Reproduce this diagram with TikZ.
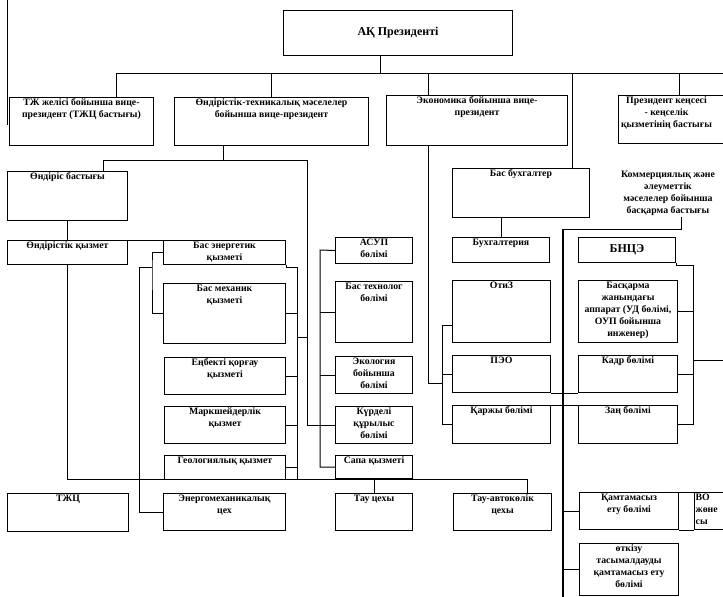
\documentclass[tikz,border=0pt]{standalone}
\usepackage{fontspec}
\setmainfont{Liberation Serif}
\tikzstyle{box} = [draw, line width=1pt, rectangle, inner sep=0pt, anchor=north west]
\tikzstyle{txt} = [anchor=north, align=center, inner sep=1.5pt, font=\fontsize{9.8}{12}\selectfont\bfseries]
\tikzstyle{link} = [line width=1pt]

\begin{document}
\begin{tikzpicture}[x=1pt,y=-1pt]
        \useasboundingbox (0,0) rectangle (723,597);
        % \draw[step=50,gray,very thin] (0,0) grid (723,597);
        \node[box, minimum width=229pt, minimum height=45pt, font=\fontsize{12}{14}\selectfont\bfseries] (pres) at (283,10) {АҚ Президенті};
        \node[box, minimum width=144pt, minimum height=48pt, label={[txt]north:{ТЖ желісі бойынша вице-\\президент (ТЖЦ бастығы)}}] (vpTZh) at (9,97) {};
        \node[box, minimum width=194pt, minimum height=48pt, label={[txt]north:{Өндірістік-техникалық мәселелер\\бойынша вице-президент}}] (vpProd) at (174,97) {};
        \node[box, minimum width=181pt, minimum height=50pt, label={[txt]north:{Экономика бойынша вице-\\президент}}] (vpEcon) at (386,95) {};
        \node[box, minimum width=122pt, minimum height=48pt, label={[txt, xshift=-13pt]north:{Президент кеңсесі\\- кеңселік\\қызметінің бастығы}}] (office) at (618,95) {};

        \node[box, minimum width=120pt, minimum height=49pt, label={[txt]north:{Өндіріс бастығы}}] (prodHead) at (7,171) {};
        \node[box, minimum width=120pt, minimum height=24pt, label={[txt]north:{Өндірістік қызмет}}] (prodSvc) at (7,240) {};
        \node[box, minimum width=122pt, minimum height=24pt, label={[txt]north:{Бас энергетик\\қызметі}}] (energ) at (163,240) {};
        \node[box, minimum width=122pt, minimum height=60pt, label={[txt]north:{Бас механик\\қызметі}}] (mech) at (163,283) {};
        \node[box, minimum width=121pt, minimum height=37pt, label={[txt]north:{Еңбекті қорғау\\қызметі}}] (safety) at (164,357) {};
        \node[box, minimum width=121pt, minimum height=37pt, label={[txt]north:{Маркшейдерлік\\қызмет}}] (survey) at (164,406) {};
        \node[box, minimum width=121pt, minimum height=24pt, label={[txt]north:{Геологиялық қызмет}}] (geo) at (164,455) {};

        \node[box, minimum width=77pt, minimum height=26pt, label={[txt]north:{АСУП\\бөлімі}}] (asu) at (335,237) {};
        \node[box, minimum width=77pt, minimum height=61pt, label={[txt]north:{Бас технолог\\бөлімі}}] (techn) at (335,281) {};
        \node[box, minimum width=77pt, minimum height=37pt, label={[txt]north:{Экология\\бойынша\\бөлімі}}] (eco) at (335,356) {};
        \node[box, minimum width=77pt, minimum height=37pt, label={[txt]north:{Күрделі\\құрылыс\\бөлімі}}] (capital) at (335,406) {};
        \node[box, minimum width=77pt, minimum height=23pt, label={[txt]north:{Сапа қызметі}}] (quality) at (335,455) {};

        \node[box, minimum width=137pt, minimum height=49pt, label={[txt]north:{Бас бухгалтер}}] (chiefAcc) at (452,168) {};
        \node[box, minimum width=97pt, minimum height=25pt, label={[txt]north:{Бухгалтерия}}] (acc) at (452,237) {};
        \node[box, minimum width=98pt, minimum height=62pt, label={[txt]north:{ОтиЗ}}] (labor) at (452,280) {};
        \node[box, minimum width=98pt, minimum height=37pt, label={[txt]north:{ПЭО}}] (plan) at (452,355) {};
        \node[box, minimum width=98pt, minimum height=38pt, label={[txt]north:{Қаржы бөлімі}}] (fin) at (452,405) {};

        \node[txt, anchor=center] (comm) at (668,193) {Коммерциялық және\\әлеуметтік\\мәселелер бойынша\\басқарма бастығы};
        \node[box, minimum width=97pt, minimum height=25pt, font=\fontsize{12}{14}\selectfont\bfseries] (bnce) at (578,237) {БНЦЭ};
        \node[box, minimum width=99pt, minimum height=62pt, label={[txt]north:{Басқарма\\жанындағы\\аппарат (УД бөлімі,\\ОУП бойынша\\инженер)}}] (apparat) at (578,280) {};
        \node[box, minimum width=99pt, minimum height=37pt, label={[txt]north:{Кадр бөлімі}}] (staff) at (578,355) {};
        \node[box, minimum width=99pt, minimum height=38pt, label={[txt]north:{Заң бөлімі}}] (law) at (578,405) {};
        \node[box, minimum width=99pt, minimum height=37pt, label={[txt]north:{Қамтамасыз\\ету бөлімі}}] (supply) at (579,492) {};
        \node[box, minimum width=66pt, minimum height=37pt, label={[txt, anchor=north west, align=left]north west:{ВО\\жөне\\сы}}] (vo) at (694,492) {};
        \node[box, minimum width=99pt, minimum height=52pt, label={[txt]north:{өткізу\\тасымалдауды\\қамтамасыз ету\\бөлімі}}] (sales) at (579,543) {};

        \node[box, minimum width=121pt, minimum height=38pt, label={[txt]north:{ТЖЦ}}] (tzhc) at (7,493) {};
        \node[box, minimum width=122pt, minimum height=37pt, label={[txt]north:{Энергомеханикалық\\цех}}] (emc) at (163,493) {};
        \node[box, minimum width=77pt, minimum height=37pt, label={[txt]north:{Тау цехы}}] (mine) at (335,493) {};
        \node[box, minimum width=98pt, minimum height=37pt, label={[txt]north:{Тау-автокөлік\\цехы}}] (auto) at (453,493) {};

        % top level
        \coordinate (top) at (380,73);
        \coordinate (busL) at (116,73);
        \coordinate (busR) at (723,73);
        \coordinate (jEcon) at (428,73);
        \coordinate (jAcc) at (572,73);
        \draw[link] (pres.south -| top) -- (top);
        \draw[link] (busL) -- (busR);
        \draw[link] (busL) -- (busL |- vpTZh.north);
        \draw[link] (vpProd.north) -- (vpProd.north |- busL);
        \draw[link] (jEcon) -- (jEcon |- vpEcon.north);
        \draw[link] (office.north) -- (office.north |- busL);
        \draw[link] (jAcc) -- (jAcc |- chiefAcc.north);

        % production
        \coordinate (jProd) at (223,160);
        \coordinate (jHead) at (103,160);
        \coordinate (jMid) at (307,160);
        \coordinate (mBus) at (320,250);
        \draw[link] (jProd |- vpProd.south) -- (jProd);
        \draw[link] (jHead |- prodHead.north) -- (jHead) -- (jMid) |- (capital.west -| mBus);
        \draw[link] (asu.west) -- (mBus) |- (quality.west);
        \draw[link] (techn.west) -- (techn.west -| mBus);
        \draw[link] (eco.west) -- (eco.west -| mBus);
        \draw[link] (capital.west) -- (capital.west -| mBus);

        \coordinate (lBus) at (297,267);
        \coordinate (lJoin) at (297,337);
        \draw[link] (energ.south east) |- (lBus) -- (lBus |- geo.south);
        \draw[link] (mech.east) -- (mech.east -| lBus);
        \draw[link] (safety.east) -- (safety.east -| lBus);
        \draw[link] (survey.east) -- (survey.east -| lBus);
        \draw[link] (geo.east) -- (geo.east -| lBus);
        \draw[link] (lJoin) -- (lJoin -| jMid);

        \coordinate (eBus) at (152,267);
        \coordinate (cBus) at (139,267);
        \draw[link] (energ.west) -| (eBus) |- (mech.west);
        \draw[link] (eBus) -- (cBus) |- (emc.west);

        \draw[link] (prodHead.south) -- (prodSvc.north);
        \draw[link] (prodSvc.north east) -- (energ.north west);
        \coordinate (bBus) at (527,479);
        \draw[link] (prodSvc.south) |- (bBus) -- (bBus |- auto.north);
        \draw[link] (mine.north) -- (mine.north |- bBus);

        % economics
        \coordinate (eDrop) at (428,383);
        \coordinate (fBus) at (442,325);
        \draw[link] (eDrop |- vpEcon.south) -- (eDrop) -- (eDrop -| fBus);
        \draw[link] (labor.west |- fBus) -- (fBus) |- (fin.west);
        \draw[link] (plan.west) -- (plan.west -| fBus);
        \draw[link] (acc.north) -- (acc.north |- chiefAcc.south);
        \draw[link] (plan.south east) -- (staff.south west);
        \draw[link] (fin.north east) -- (law.north west);

        % commercial
        \coordinate (cJ) at (681,229);
        \coordinate (rBus) at (563,229);
        \coordinate (rEnd) at (563,597);
        \draw[link] (cJ |- comm.south) -- (cJ) -- (rBus);
        \draw[line width=1.6pt] (rBus) -- (rEnd);
        \draw[link] (supply.west) -- (supply.west -| rBus);
        \draw[link] (sales.west) -- (sales.west -| rBus);
        \draw[link] (supply.north east) -- (vo.north west);
        \draw[link] (supply.south east) -- (vo.south west);

        \coordinate (kBus) at (693,265);
        \coordinate (kOut) at (723,360);
        \draw[link] (bnce.south east) |- (kBus) |- (law.east);
        \draw[link] (apparat.east) -- (apparat.east -| kBus);
        \draw[link] (staff.east) -- (staff.east -| kBus);
        \draw[link] (kOut -| kBus) -- (kOut);

        \draw[line width=0.6pt] (7,0) -- (7,125);
\end{tikzpicture}
\end{document}
